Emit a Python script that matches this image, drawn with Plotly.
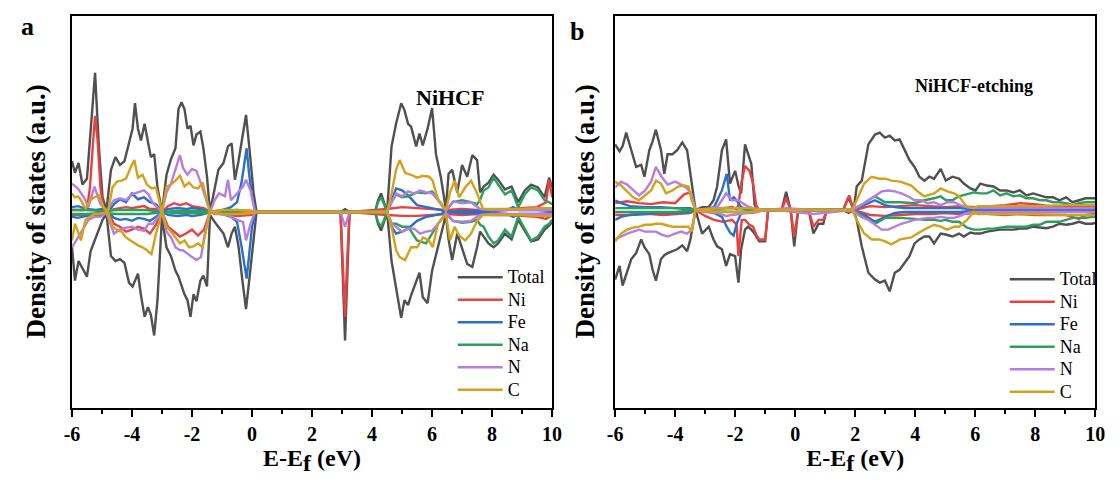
import plotly.graph_objects as go

# ---------------- Panel a : NiHCF ----------------
A_TOTAL_E = [-6.0,-5.9,-5.78,-5.65,-5.5,-5.38,-5.23,-5.1,-4.98,-4.85,-4.7,-4.55,-4.4,-4.25,-4.1,-3.98,-3.9,-3.8,-3.7,-3.58,
             -3.47,-3.37,-3.26,-3.15,-3.0,-2.85,-2.7,-2.55,-2.45,-2.35,-2.25,-2.15,-2.05,-1.95,-1.85,-1.72,-1.62,-1.5,-1.4,-1.25,
             -1.12,-0.95,-0.8,-0.68,-0.57,-0.45,-0.32,-0.2,-0.08,0.05,0.15,2.95,3.1,3.25,4.1,4.2,4.3,4.4,4.5,4.65,
             4.8,4.97,5.08,5.2,5.3,5.47,5.58,5.69,5.85,6.0,6.13,6.29,6.46,6.55,6.67,6.84,7.0,7.17,7.34,7.5,
             7.6,7.72,7.88,8.05,8.2,8.43,8.65,8.87,9.09,9.3,9.53,9.75,9.9,10.0]
A_TOTAL_UP = [5.2,4.0,5.0,2.8,3.4,8.0,14.2,6.5,1.5,0.2,4.3,5.6,4.8,5.2,7.0,8.5,11.1,8.5,7.3,9.0,
              7.2,5.6,5.9,2.5,0.0,3.8,5.4,6.5,10.5,11.2,10.5,8.5,8.8,6.8,7.9,8.2,6.5,3.6,0.0,2.5,
              4.3,5.0,6.7,7.0,3.3,5.2,7.5,9.9,6.3,2.0,0.0,0.0,0.3,0.0,0.0,1.2,1.9,1.0,0.0,6.7,
              9.0,11.1,10.4,9.0,8.7,6.7,8.0,6.8,8.5,10.6,5.9,3.6,0.3,3.9,4.3,2.0,4.8,3.6,5.8,5.3,
              2.0,2.6,3.0,3.8,3.3,2.3,2.6,1.0,2.2,2.8,2.5,1.5,3.5,2.5]
A_TOTAL_DN = [-3.5,-7.0,-5.0,-5.8,-6.6,-4.0,-2.8,-1.8,-0.8,-0.2,-4.5,-5.0,-4.8,-5.2,-7.2,-7.6,-7.0,-6.3,-8.5,-10.7,
              -9.7,-10.5,-12.6,-9.0,-0.5,-3.6,-4.5,-6.0,-6.6,-7.6,-8.4,-9.0,-10.7,-8.4,-9.1,-7.0,-6.5,-7.6,-0.3,-1.0,
              -1.5,-2.2,-3.6,-2.2,-1.5,-3.5,-7.0,-9.9,-6.6,-3.0,0.0,0.0,-13.1,0.0,0.0,-1.2,-1.9,-1.0,0.0,-5.0,
              -7.6,-10.8,-9.0,-9.5,-8.5,-7.0,-6.2,-8.7,-9.3,-6.0,-4.3,-2.5,-0.3,-2.8,-4.9,-2.2,-3.6,-5.3,-5.6,-3.6,
              -2.0,-2.5,-3.2,-3.6,-3.2,-2.2,-2.8,-0.8,-2.0,-3.0,-2.8,-1.8,-1.4,-1.0]

A_NI_E = [-6.0,-5.6,-5.5,-5.4,-5.3,-5.23,-5.15,-5.05,-4.95,-4.8,-4.6,-4.4,-4.2,-4.0,-3.8,-3.6,-3.4,-3.2,-3.0,-2.8,
          -2.6,-2.4,-2.2,-2.0,-1.8,-1.6,-1.4,-1.0,-0.5,0.0,0.15,2.95,3.03,3.1,3.17,3.25,4.5,5.0,5.5,6.0,
          6.5,7.0,7.5,8.0,8.5,9.0,9.5,9.8,9.9,10.0]
A_NI_UP = [0.2,0.2,0.3,2.5,7.0,9.8,7.5,2.5,0.3,0.0,0.3,0.4,0.5,0.4,0.5,0.6,0.3,0.3,0.0,0.6,
           0.9,0.7,0.9,0.6,0.5,0.4,0.0,0.1,0.2,0.1,0.0,0.0,0.0,0.0,0.0,0.0,0.3,0.5,0.4,0.3,
           0.2,0.3,0.2,0.2,0.3,0.4,0.5,1.0,3.3,1.5]
A_NI_DN = [-0.3,-0.3,-0.2,-0.3,-0.3,-0.3,-0.3,-0.2,-0.2,0.0,-1.2,-1.5,-2.0,-1.8,-1.5,-1.7,-2.2,-1.3,0.0,-1.5,
           -2.0,-2.5,-2.2,-1.8,-2.4,-1.8,0.0,-0.2,-0.4,-0.3,0.0,0.0,-5.0,-10.7,-5.0,0.0,-0.3,-0.4,-0.4,-0.3,
           -0.2,-0.3,-0.2,-0.3,-0.3,-0.4,-0.5,-0.7,-0.5,-0.4]

A_FE_E = [-6.0,-5.8,-5.5,-5.2,-5.0,-4.8,-4.6,-4.4,-4.2,-4.0,-3.8,-3.6,-3.4,-3.2,-3.0,-2.8,-2.5,-2.2,-2.0,-1.7,
          -1.4,-1.0,-0.7,-0.5,-0.35,-0.25,-0.18,-0.1,0.0,0.1,0.15,4.3,4.5,4.65,4.8,5.0,5.2,5.5,5.8,6.0,
          6.3,6.46,7.0,7.5,8.0,8.5,8.7,8.9,9.5,10.0]
A_FE_UP = [0.5,0.6,0.3,0.2,0.3,0.0,0.8,1.3,1.0,1.9,1.3,1.5,1.0,0.8,0.0,0.3,0.4,0.3,0.4,0.3,
           0.0,0.2,0.5,1.0,3.0,5.0,6.5,4.0,1.5,0.3,0.0,0.0,0.0,1.2,2.4,2.2,1.7,0.7,0.5,0.4,
           0.2,0.0,0.1,0.1,0.1,0.2,0.5,0.2,0.2,0.1]
A_FE_DN = [-0.5,-0.6,-0.4,-0.2,-0.3,0.0,-0.6,-0.8,-0.7,-0.9,-0.6,-0.7,-0.9,-0.5,0.0,-0.3,-0.4,-0.3,-0.4,-0.3,
           0.0,-0.2,-0.5,-1.0,-3.5,-5.5,-6.8,-4.5,-1.5,-0.3,0.0,0.0,0.0,-1.5,-2.2,-2.0,-1.7,-0.9,-0.5,-0.4,
           -0.2,0.0,-0.1,-0.1,-0.1,-0.2,-0.5,-0.2,-0.2,-0.1]

A_NA_E = [-6.0,-5.5,-5.0,-4.5,-4.0,-3.5,-3.0,-2.5,-2.0,-1.5,-1.0,-0.5,0.0,0.15,4.1,4.2,4.3,4.4,4.5,4.65,
          4.8,5.0,5.2,5.5,5.8,6.0,6.2,6.46,6.7,7.0,7.3,7.5,7.6,7.72,7.88,8.05,8.2,8.43,8.65,8.87,
          9.09,9.3,9.53,9.75,9.9,10.0]
A_NA_UP = [0.2,0.2,0.1,0.2,0.2,0.2,0.0,0.1,0.1,0.1,0.0,0.0,0.0,0.0,0.0,1.0,1.5,0.8,0.0,1.0,
           1.8,1.5,1.6,2.0,1.9,2.1,1.3,0.2,1.0,1.2,1.0,0.8,1.2,2.2,2.5,3.5,2.8,1.8,2.2,0.5,
           1.8,2.5,2.2,1.2,1.0,0.8]
A_NA_DN = [-0.2,-0.2,-0.1,-0.2,-0.2,-0.2,0.0,-0.1,-0.1,-0.1,0.0,0.0,0.0,0.0,0.0,-1.0,-1.5,-0.8,0.0,-1.2,
           -1.2,-1.5,-1.5,-2.9,-3.2,-2.2,-1.2,-0.2,-0.9,-1.1,-1.0,-0.8,-1.3,-1.5,-2.5,-3.2,-2.9,-1.8,-2.5,-0.5,
           -1.8,-2.9,-2.5,-1.5,-1.2,-0.8]

A_N_E = [-6.0,-5.8,-5.6,-5.45,-5.25,-5.05,-4.85,-4.6,-4.4,-4.2,-4.0,-3.8,-3.6,-3.45,-3.3,-3.0,-2.85,-2.7,-2.55,-2.4,
         -2.3,-2.15,-2.0,-1.85,-1.7,-1.55,-1.4,-1.25,-1.1,-0.9,-0.8,-0.7,-0.5,-0.3,-0.2,-0.05,0.1,2.95,3.03,3.1,
         3.17,3.25,4.5,4.65,4.8,5.0,5.2,5.4,5.6,5.8,6.0,6.2,6.46,6.7,7.0,7.3,7.6,8.0,8.5,9.0,
         9.5,10.0]
A_N_UP = [2.9,2.4,1.5,0.5,2.6,0.8,0.1,1.2,1.4,1.2,1.8,2.0,2.2,1.8,0.9,0.0,2.0,2.9,4.3,5.8,
          4.5,3.8,4.4,4.2,2.9,1.5,0.0,1.2,1.9,1.6,3.3,1.2,1.9,2.6,3.3,2.2,0.0,0.0,0.0,0.0,
          0.0,0.0,0.0,1.0,1.9,1.6,2.1,1.9,2.2,2.0,1.9,1.2,0.1,1.1,0.9,1.0,0.3,0.2,0.2,0.2,
          0.2,0.2]
A_N_DN = [-3.6,-2.6,-1.5,-0.8,-0.5,-0.5,-0.1,-2.2,-1.8,-1.6,-1.5,-1.8,-1.9,-1.2,-1.2,0.0,-2.0,-2.6,-3.6,-3.9,
          -3.9,-4.3,-4.6,-4.9,-4.6,-1.8,0.0,-0.2,-0.2,-0.3,-0.3,-0.5,-0.8,-1.0,-2.9,-1.2,0.0,0.0,-0.8,-1.5,
          -0.8,0.0,0.0,-1.2,-1.5,-2.0,-1.7,-1.7,-2.2,-2.0,-1.9,-1.2,-0.1,-0.9,-1.0,-0.9,-0.3,-0.2,-0.2,-0.2,
          -0.2,-0.2]

A_C_E = [-6.0,-5.9,-5.8,-5.7,-5.55,-5.4,-5.25,-5.1,-4.95,-4.8,-4.65,-4.5,-4.35,-4.2,-4.05,-3.92,-3.8,-3.65,-3.5,-3.35,
         -3.2,-3.0,-2.85,-2.7,-2.55,-2.4,-2.25,-2.1,-1.95,-1.8,-1.65,-1.5,-1.4,-1.0,-0.5,0.0,0.15,4.5,4.65,4.8,
         4.92,5.1,5.3,5.5,5.7,5.9,6.02,6.2,6.46,6.6,6.75,6.9,7.1,7.3,7.5,7.7,8.0,8.5,9.0,9.5,
         10.0]
A_C_UP = [1.9,1.5,1.6,1.2,0.3,1.2,1.5,1.7,0.5,0.0,2.5,3.1,3.2,3.4,4.5,5.3,3.5,3.8,2.8,2.4,
          2.5,0.0,2.6,2.8,3.2,3.7,2.6,3.0,2.5,2.4,3.0,1.2,0.0,0.2,0.2,0.1,0.0,0.0,1.9,4.3,
          5.3,4.0,3.8,3.5,3.7,3.6,3.2,1.2,0.2,2.0,3.2,1.5,2.5,3.2,1.9,0.3,0.3,0.3,0.3,0.4,
          0.4]
A_C_DN = [-2.9,-1.2,-2.0,-2.9,-0.8,-0.5,-0.2,-0.2,-0.1,0.0,-1.5,-1.8,-2.0,-2.6,-2.9,-3.2,-3.4,-3.6,-3.9,-4.3,
          -2.2,0.0,-1.5,-2.0,-2.6,-3.2,-2.9,-3.6,-3.5,-3.2,-3.6,-1.5,0.0,-0.2,-0.2,-0.1,0.0,0.0,-1.5,-3.9,
          -4.6,-4.9,-3.6,-3.6,-2.6,-2.9,-3.6,-1.2,-0.2,-2.9,-1.5,-2.4,-2.9,-2.2,-0.9,-0.3,-0.3,-0.3,-0.3,-0.4,
          -0.4]

# ---------------- Panel b : NiHCF-etching ----------------
B_TOTAL_E = [-6.0,-5.85,-5.75,-5.63,-5.46,-5.3,-5.13,-5.02,-4.86,-4.75,-4.64,-4.47,-4.36,-4.25,-4.09,-3.93,-3.76,-3.6,-3.49,-3.32,
             -3.1,-2.88,-2.72,-2.6,-2.44,-2.3,-2.17,-2.0,-1.89,-1.8,-1.67,-1.57,-1.46,-1.35,-1.2,-1.0,-0.9,-0.45,-0.3,-0.15,
             -0.03,0.1,0.45,0.61,0.78,0.94,1.05,1.6,1.78,1.95,2.05,2.22,2.44,2.66,2.82,2.99,3.15,3.32,3.48,3.65,
             3.81,3.98,4.14,4.31,4.47,4.63,4.85,5.02,5.24,5.46,5.62,5.84,6.01,6.17,6.39,6.61,6.83,7.05,7.27,7.49,
             7.71,7.93,8.15,8.37,8.59,8.81,9.03,9.24,9.46,9.68,9.9,10.0]
B_TOTAL_UP = [6.7,6.0,6.5,7.9,6.1,4.4,4.6,3.4,6.1,7.0,8.2,6.1,3.7,5.7,5.7,6.1,6.9,6.1,3.7,0.0,
              0.3,0.3,1.0,2.4,6.1,7.2,2.7,4.0,2.5,1.7,6.7,5.7,4.7,0.5,0.0,0.0,0.0,0.0,1.85,0.0,
              0.0,0.0,0.0,0.0,0.0,0.0,0.0,0.0,1.3,0.0,2.4,3.0,6.7,7.7,7.9,7.4,7.6,7.1,7.2,6.1,
              5.1,4.4,3.4,3.0,3.4,3.2,4.2,3.0,3.4,3.2,2.7,2.2,2.0,2.7,2.5,2.4,2.0,2.0,1.8,2.0,
              1.5,1.7,1.5,1.3,1.3,1.0,1.3,0.8,1.0,1.2,1.2,1.2]
B_TOTAL_DN = [-7.1,-5.7,-7.7,-6.5,-5.0,-4.4,-3.0,-3.8,-4.5,-6.1,-7.2,-5.0,-4.6,-4.4,-4.2,-4.0,-3.6,-4.2,-3.0,0.0,
              -2.4,-1.7,-3.0,-3.7,-4.0,-5.7,-4.5,-4.7,-7.4,-4.0,-2.0,-1.7,-2.0,-2.4,-3.2,-3.2,0.0,0.0,0.0,0.0,
              -3.7,0.0,0.0,-2.4,-1.4,-1.4,0.0,0.0,-0.3,0.0,-1.0,-3.7,-6.4,-7.1,-7.4,-7.2,-8.3,-6.4,-6.1,-5.4,
              -4.7,-3.4,-3.0,-2.7,-2.7,-3.4,-2.4,-2.5,-2.7,-2.4,-2.7,-2.3,-2.4,-2.4,-2.2,-2.1,-2.0,-2.0,-2.0,-1.9,
              -1.9,-1.7,-1.8,-1.85,-1.7,-1.4,-1.5,-1.4,-1.2,-1.4,-1.4,-1.3]

B_NI_E = [-6.0,-5.6,-5.2,-4.8,-4.4,-4.0,-3.7,-3.5,-3.32,-3.0,-2.7,-2.4,-2.1,-1.95,-1.89,-1.78,-1.67,-1.52,-1.4,-1.3,
          -1.2,-1.0,-0.9,-0.45,-0.3,-0.15,-0.03,0.1,0.45,0.61,0.78,0.94,1.05,1.6,1.8,1.95,2.5,3.0,3.5,4.0,
          4.5,5.0,5.5,6.0,6.5,7.0,7.5,8.0,8.5,9.0,9.46,9.7,10.0]
B_NI_UP = [0.7,0.9,0.7,0.6,0.8,0.7,1.6,1.8,0.0,0.1,0.2,0.2,0.3,0.1,0.5,3.0,4.5,4.0,2.7,0.5,
           0.0,0.0,0.0,0.0,1.2,0.0,0.0,0.0,0.0,0.0,0.0,0.0,0.0,0.0,1.5,0.0,0.4,0.3,0.4,0.5,
           0.4,0.3,0.4,0.3,0.4,0.5,0.7,0.6,0.4,0.4,0.3,0.3,0.3]
B_NI_DN = [-0.5,-0.5,-0.4,-0.4,-0.5,-0.4,-0.3,-0.3,0.0,-0.6,-1.0,-1.2,-1.0,-1.5,-4.7,-1.0,-1.0,-1.5,-1.7,-2.5,
           -3.0,-3.0,0.0,0.0,0.0,0.0,-2.7,0.0,0.0,-1.7,-1.0,-1.0,0.0,0.0,-0.2,0.0,-0.5,-0.6,-0.5,-0.4,
           -0.4,-0.3,-0.4,-0.3,-0.4,-0.5,-0.4,-0.5,-0.5,-0.5,-0.9,-0.5,-0.4]

B_FE_E = [-6.0,-5.8,-5.5,-5.0,-4.5,-4.0,-3.5,-3.32,-3.0,-2.7,-2.44,-2.28,-2.17,-2.05,-1.95,-1.8,-1.6,-1.4,-1.0,-0.5,
          1.9,2.3,2.66,2.99,3.32,3.65,4.0,4.5,5.0,5.5,5.8,6.0,7.0,8.0,9.0,10.0]
B_FE_UP = [1.0,0.7,0.4,0.3,0.3,0.2,0.2,0.0,0.1,0.3,2.0,3.7,1.0,1.3,1.0,0.3,0.1,0.0,0.0,0.0,
           0.0,0.5,1.0,0.5,0.3,0.2,0.2,0.2,0.2,0.2,0.1,0.0,0.05,0.05,0.05,0.05]
B_FE_DN = [-1.0,-0.7,-0.5,-0.4,-0.3,-0.3,-0.2,0.0,-0.1,-0.3,-0.7,-1.7,-2.3,-2.6,-1.4,-0.3,-0.1,0.0,0.0,0.0,
           0.0,-0.5,-1.2,-0.7,-0.3,-0.2,-0.2,-0.2,-0.2,-0.2,-0.1,0.0,-0.05,-0.05,-0.05,-0.05]

B_NA_E = [-6.0,-5.0,-4.0,-3.32,-3.0,-2.0,-1.0,1.9,2.2,2.44,2.66,3.0,3.5,3.98,4.31,4.63,4.85,5.02,5.24,5.46,
          5.73,5.95,6.17,6.39,6.61,6.83,7.05,7.27,7.49,7.71,7.93,8.15,8.37,8.59,8.81,9.03,9.24,9.46,9.68,9.9,
          10.0]
B_NA_UP = [0.2,0.2,0.2,0.0,0.1,0.2,0.0,0.0,0.5,1.0,1.4,0.8,0.8,0.7,1.0,1.2,1.4,1.0,1.0,1.4,
           1.6,1.8,1.7,1.7,2.0,1.5,1.7,1.4,1.5,1.2,1.2,1.0,1.0,0.8,0.8,0.7,0.5,0.7,0.8,0.8,
           0.8]
B_NA_DN = [-0.2,-0.2,-0.2,0.0,-0.1,-0.2,0.0,0.0,-0.5,-1.0,-1.4,-0.8,-0.8,-0.9,-1.0,-1.0,-1.1,-1.0,-1.2,-1.2,
           -1.8,-2.0,-2.0,-1.9,-1.9,-1.8,-1.7,-1.7,-1.7,-1.7,-1.5,-1.5,-1.2,-1.2,-1.2,-1.0,-0.8,-0.8,-0.8,-0.7,
           -0.7]

B_N_E = [-6.0,-5.8,-5.6,-5.4,-5.2,-5.0,-4.8,-4.64,-4.45,-4.25,-4.0,-3.8,-3.6,-3.45,-3.32,-3.0,-2.6,-2.44,-2.3,-2.1,
         -1.9,-1.6,-1.4,-1.0,-0.3,0.61,1.9,2.2,2.44,2.66,2.88,3.1,3.32,3.54,3.76,3.98,4.2,4.41,4.63,4.85,
         5.07,5.29,5.5,5.73,5.95,6.2,7.0,8.0,9.0,10.0]
B_N_UP = [2.3,2.9,2.6,2.0,1.5,2.0,2.9,4.4,3.4,2.6,2.9,2.6,2.2,1.6,0.0,0.1,0.3,1.0,1.7,1.0,
          1.0,0.4,0.2,0.0,0.2,0.0,0.0,0.5,1.0,1.5,1.9,2.0,1.9,1.7,1.4,1.0,1.0,0.7,0.8,0.5,
          0.8,0.8,0.5,0.3,0.2,0.2,0.2,0.2,0.2,0.2]
B_N_DN = [-3.0,-2.7,-2.4,-2.2,-2.0,-2.2,-2.2,-2.2,-2.5,-2.7,-2.4,-2.2,-2.4,-2.0,0.0,-0.2,-0.3,-0.5,-0.6,-0.5,
          -0.4,-0.3,-0.3,0.0,-0.1,-0.4,0.0,-0.7,-1.0,-1.5,-2.0,-2.0,-1.7,-1.4,-1.2,-1.0,-0.9,-0.8,-0.8,-0.7,
          -0.8,-0.8,-0.6,-0.3,-0.2,-0.2,-0.2,-0.2,-0.2,-0.2]

B_C_E = [-6.0,-5.8,-5.6,-5.4,-5.2,-5.0,-4.8,-4.64,-4.47,-4.3,-4.09,-3.9,-3.7,-3.55,-3.45,-3.32,-3.0,-2.5,-2.0,-1.5,
         -1.0,1.9,2.05,2.3,2.55,2.8,3.0,3.2,3.5,3.87,4.08,4.3,4.63,4.85,5.07,5.3,5.46,5.73,5.95,6.1,
         7.0,8.0,9.0,10.0]
B_C_UP = [2.9,2.5,1.9,1.3,1.0,1.5,2.0,3.0,2.7,1.7,2.0,2.4,2.5,2.4,1.0,0.0,0.1,0.2,0.2,0.2,
          0.0,0.0,1.0,2.7,3.4,3.2,3.2,3.0,2.9,2.5,1.9,1.4,1.7,2.2,1.9,1.7,1.4,0.3,0.2,0.4,
          0.4,0.4,0.5,0.5]
B_C_DN = [-3.2,-2.4,-2.0,-1.8,-1.7,-1.5,-1.5,-1.4,-1.4,-1.5,-1.7,-1.7,-1.7,-1.7,-2.2,0.0,-0.1,-0.2,-0.2,-0.2,
          0.0,0.0,-1.0,-2.4,-3.0,-3.0,-3.2,-3.5,-3.0,-2.8,-2.4,-2.0,-1.5,-1.7,-2.0,-1.7,-1.7,-1.0,-0.2,-0.4,
          -0.4,-0.4,-0.5,-0.5]

NAMES = ["Total", "Ni", "Fe", "Na", "N", "C"]
COLORS = ["#505050", "#e8413f", "#2a6fcc", "#2e9e5e", "#b57ee0", "#d4a21a"]
X_TICKS = [-6, -4, -2, 0, 2, 4, 6, 8, 10]
X_TICKTEXT = ["-6", "-4", "-2", "0", "2", "4", "6", "8", "10"]

A_SERIES = [(A_TOTAL_E, A_TOTAL_UP, A_TOTAL_DN), (A_NI_E, A_NI_UP, A_NI_DN), (A_FE_E, A_FE_UP, A_FE_DN),
            (A_NA_E, A_NA_UP, A_NA_DN), (A_N_E, A_N_UP, A_N_DN), (A_C_E, A_C_UP, A_C_DN)]
B_SERIES = [(B_TOTAL_E, B_TOTAL_UP, B_TOTAL_DN), (B_NI_E, B_NI_UP, B_NI_DN), (B_FE_E, B_FE_UP, B_FE_DN),
            (B_NA_E, B_NA_UP, B_NA_DN), (B_N_E, B_N_UP, B_N_DN), (B_C_E, B_C_UP, B_C_DN)]

for s in A_SERIES + B_SERIES:
    assert len(s[0]) == len(s[1]) == len(s[2]), (len(s[0]), len(s[1]), len(s[2]))

fig = go.Figure()
LW = 2.4
for panel, series, xa, ya, lg in [("a", A_SERIES, "x", "y", "legend"), ("b", B_SERIES, "x2", "y2", "legend2")]:
    for name, color, (e, up, dn) in zip(NAMES, COLORS, series):
        label = "<span style='font-size:18px'>" + name + "</span>"
        fig.add_trace(go.Scatter(x=e, y=up, mode="lines", name=label, line=dict(color=color, width=LW),
                                 xaxis=xa, yaxis=ya, legend=lg, showlegend=True, legendgroup=panel + name))
        fig.add_trace(go.Scatter(x=e, y=dn, mode="lines", name=label, line=dict(color=color, width=LW),
                                 xaxis=xa, yaxis=ya, legend=lg, showlegend=False, legendgroup=panel + name))

W, H = 1120, 482
def px_x(v): return v / W
def px_y(v): return 1 - v / H

serif = "Liberation Serif"
xtitle = "E-E<sub><span style='font-size:24px'>f</span></sub> (eV)"
xax_common = dict(range=[-6, 10], tickmode="array", tickvals=X_TICKS, ticktext=X_TICKTEXT,
                  ticks="outside", ticklen=7, tickwidth=2, tickcolor="black",
                  minor=dict(dtick=1, tick0=-6, ticks="outside", ticklen=4, tickwidth=2, tickcolor="black"),
                  showline=True, linewidth=2, linecolor="black", mirror=True,
                  showgrid=False, zeroline=False,
                  tickfont=dict(family=serif, size=20, color="black", weight="bold"),
                  title=dict(text=xtitle, font=dict(family=serif, size=24, color="black", weight="bold"),
                             standoff=4))
yax_common = dict(showline=True, linewidth=2, linecolor="black", mirror=True, showticklabels=False,
                  ticks="", showgrid=False, zeroline=False)

leg_common = dict(xanchor="left", yanchor="top", bgcolor="rgba(0,0,0,0)", itemwidth=45,
                  font=dict(family=serif, size=15, color="black"), tracegroupgap=0)
fig.update_layout(
    width=W, height=H, margin=dict(l=0, r=0, t=0, b=0),
    paper_bgcolor="white", plot_bgcolor="white",
    xaxis=dict(domain=[px_x(65), px_x(553)], anchor="y", **xax_common),
    xaxis2=dict(domain=[px_x(617), px_x(1105)], anchor="y2", **xax_common),
    yaxis=dict(domain=[px_y(408), px_y(16)], anchor="x", range=[-20, 20], **yax_common),
    yaxis2=dict(domain=[px_y(408), px_y(16)], anchor="x2", range=[-20.2, 19.8], **yax_common),
    legend=dict(x=px_x(452), y=px_y(261), **leg_common),
    legend2=dict(x=px_x(1013), y=px_y(263), **leg_common),
    showlegend=True,
)

ann_font = dict(family=serif, color="black", weight="bold")
annotations = [
    dict(text="a", x=px_x(20), y=px_y(26), font=dict(size=26, **ann_font)),
    dict(text="b", x=px_x(578), y=px_y(32), font=dict(size=26, **ann_font)),
    dict(text="NiHCF", x=px_x(449), y=px_y(98), font=dict(size=22, **ann_font)),
    dict(text="NiHCF-etching", x=px_x(982), y=px_y(86), font=dict(size=18, **ann_font)),
    dict(text="Density of states (a.u.)", x=px_x(28), y=px_y(212), textangle=-90, font=dict(size=27, **ann_font)),
    dict(text="Density of states (a.u.)", x=px_x(586), y=px_y(212), textangle=-90, font=dict(size=27, **ann_font)),
]
for a in annotations:
    a.update(xref="paper", yref="paper", showarrow=False, xanchor="center", yanchor="middle")
fig.update_layout(annotations=annotations)

fig.write_html("out.html", config={"displayModeBar": False},
               post_script="document.body.style.margin='0';document.body.style.overflow='hidden';")
